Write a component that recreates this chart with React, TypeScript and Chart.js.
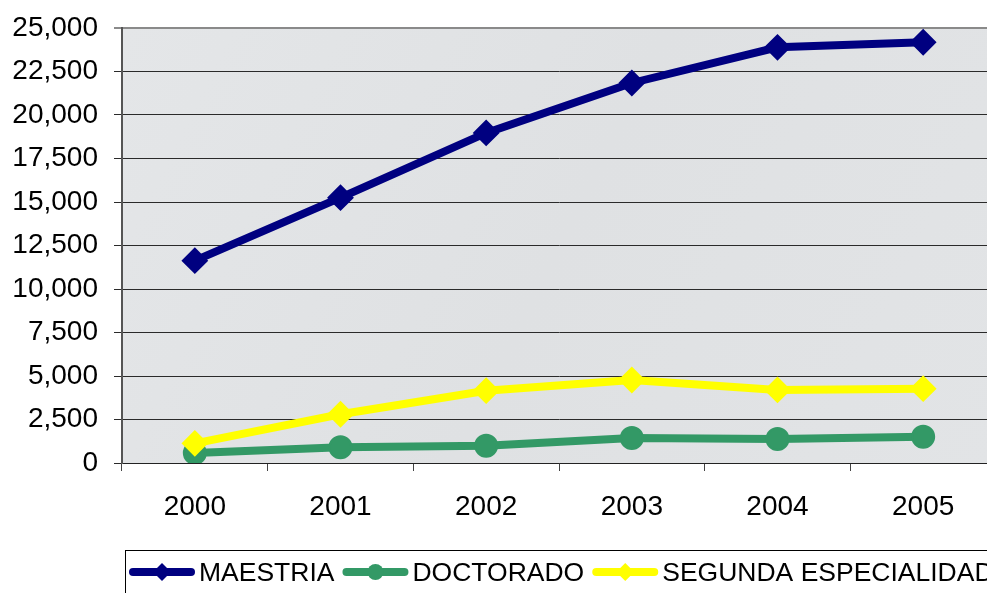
import React, { useEffect, useRef } from 'react';
import { Chart, registerables } from 'chart.js';

Chart.register(...registerables);

const years = ['2000', '2001', '2002', '2003', '2004', '2005'];
const maestria = [11630, 15250, 18970, 21840, 23890, 24180];
const doctorado = [575, 900, 995, 1440, 1380, 1510];
const segunda = [1130, 2800, 4155, 4770, 4200, 4270];
const seriesLabels = ['MAESTRIA', 'DOCTORADO', 'SEGUNDA ESPECIALIDAD'];
const yMin = 0;
const yMax = 25000;
const yStep = 2500;

const FONT = '"Liberation Sans", Arial, Helvetica, sans-serif';

const bgPlugin = {
  id: 'plotBg',
  beforeDraw(chart: any) {
    const { ctx, chartArea } = chart;
    const { left, top, right, bottom } = chartArea;
    ctx.save();
    const g = ctx.createLinearGradient(left, top, right, bottom);
    g.addColorStop(0, '#e4e6e8');
    g.addColorStop(0.5, '#dfe1e3');
    g.addColorStop(1, '#e2e4e6');
    ctx.fillStyle = g;
    ctx.fillRect(left, top, right - left, bottom - top);
    ctx.restore();
  },
};

const legendPlugin = {
  id: 'lineLegend',
  afterDraw(chart: any) {
    const ctx = chart.ctx;
    ctx.save();
    ctx.strokeStyle = '#000';
    ctx.lineWidth = 1;
    ctx.strokeRect(125.5, 550.5, 1000, 100);
    ctx.font = '26.5px ' + FONT;
    ctx.textBaseline = 'middle';
    ctx.textAlign = 'left';
    let x = 133;
    const y = 572;
    chart.data.datasets.forEach((ds: any) => {
      ctx.strokeStyle = ds.borderColor;
      ctx.lineWidth = 8;
      ctx.lineCap = 'round';
      ctx.beginPath();
      ctx.moveTo(x, y);
      ctx.lineTo(x + 58, y);
      ctx.stroke();
      const cx = x + 29;
      ctx.fillStyle = ds.pointBackgroundColor;
      ctx.beginPath();
      if (ds.pointStyle === 'circle') {
        ctx.arc(cx, y, 8, 0, Math.PI * 2);
      } else {
        ctx.moveTo(cx - 9, y);
        ctx.lineTo(cx, y - 9);
        ctx.lineTo(cx + 9, y);
        ctx.lineTo(cx, y + 9);
        ctx.closePath();
      }
      ctx.fill();
      ctx.fillStyle = '#000';
      ctx.fillText(ds.label, x + 66, y + 2);
      x += 66 + ctx.measureText(ds.label).width + 12;
    });
    ctx.restore();
  },
};

export default function App() {
  const ref = useRef<HTMLCanvasElement | null>(null);

  useEffect(() => {
    if (!ref.current) return;
    const chart = new Chart(ref.current, {
      type: 'line',
      data: {
        labels: years,
        datasets: [
          {
            label: seriesLabels[0],
            data: maestria,
            borderColor: '#000080',
            backgroundColor: '#000080',
            pointBackgroundColor: '#000080',
            pointBorderColor: '#000080',
            borderWidth: 8,
            pointStyle: 'rectRot',
            pointRadius: 12,
            pointBorderWidth: 2,
            tension: 0,
            order: 1,
          },
          {
            label: seriesLabels[1],
            data: doctorado,
            borderColor: '#339966',
            backgroundColor: '#339966',
            pointBackgroundColor: '#339966',
            pointBorderColor: '#339966',
            borderWidth: 8,
            pointStyle: 'circle',
            pointRadius: 11,
            pointBorderWidth: 2,
            tension: 0,
            order: 2,
          },
          {
            label: seriesLabels[2],
            data: segunda,
            borderColor: '#FFFF00',
            backgroundColor: '#FFFF00',
            pointBackgroundColor: '#FFFF00',
            pointBorderColor: '#FFFF00',
            borderWidth: 8,
            pointStyle: 'rectRot',
            pointRadius: 12,
            pointBorderWidth: 2,
            tension: 0,
            order: 0,
          },
        ],
      },
      options: {
        animation: false,
        responsive: false,
        devicePixelRatio: 1,
        locale: 'en-US',
        layout: { padding: { top: 28, left: 0, right: 11, bottom: 0 } },
        plugins: {
          legend: { display: false },
          tooltip: { enabled: false },
        },
        scales: {
          x: {
            type: 'category',
            offset: true,
            grid: {
              display: true,
              offset: true,
              drawOnChartArea: false,
              drawTicks: true,
              tickLength: 8,
              color: '#444',
            },
            border: { display: true, color: '#222', width: 1 },
            ticks: {
              color: '#000',
              font: { family: FONT, size: 28 },
              padding: 19,
              maxRotation: 0,
              autoSkip: false,
            },
            afterFit(scale: any) {
              scale.height = 130;
            },
          },
          y: {
            type: 'linear',
            min: yMin,
            max: yMax,
            ticks: {
              stepSize: yStep,
              color: '#000',
              font: { family: FONT, size: 28 },
              padding: 16,
            },
            grid: {
              color: (c: any) => (c.tick && c.tick.value === yMax ? '#8a8a8a' : '#2a2a2a'),
              lineWidth: (c: any) => (c.tick && c.tick.value === yMax ? 2 : 1),
              tickLength: 8,
              drawTicks: true,
            },
            border: { display: true, color: '#555', width: 2 },
            afterFit(scale: any) {
              scale.width = 122;
              scale.paddingTop = 17;
            },
          },
        },
      },
      plugins: [bgPlugin, legendPlugin],
    });
    return () => chart.destroy();
  }, []);

  return (
    <div
      style={{
        position: 'fixed',
        left: 0,
        top: 0,
        width: 987,
        height: 593,
        overflow: 'hidden',
        background: '#fff',
      }}
    >
      <canvas ref={ref} width={1010} height={593} style={{ display: 'block' }} />
    </div>
  );
}
